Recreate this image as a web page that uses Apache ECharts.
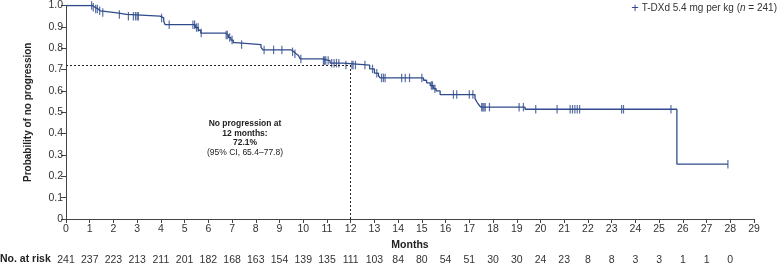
<!DOCTYPE html>
<html>
<head>
<meta charset="utf-8">
<script src="https://cdn.jsdelivr.net/npm/echarts@6/dist/echarts.min.js"></script>
<style>
html,body{margin:0;padding:0;background:#fff;}
#chart{width:778px;height:266px;}
</style>
</head>
<body>
<div id="chart"></div>
<script>
// Kaplan–Meier step data (time in months, probability after each event)
const eventTimes = [0, 1.12, 1.22, 1.35, 1.45, 2.07, 2.56, 3.96, 4.12, 4.18, 5.45, 5.58, 5.68, 6.72, 6.85, 6.95, 7.05, 7.15, 8.22, 8.30, 9.50, 9.60, 9.70, 9.80, 9.87, 10.78, 11.13, 11.70, 12.80, 13.00, 13.17, 13.24, 15.07, 15.20, 15.35, 15.50, 15.60, 15.77, 17.24, 17.32, 17.40, 17.48, 19.35, 25.75, 27.90];
const survival   = [1.000, 0.992, 0.984, 0.975, 0.967, 0.958, 0.950, 0.942, 0.926, 0.910, 0.897, 0.884, 0.871, 0.862, 0.850, 0.838, 0.826, 0.817, 0.804, 0.792, 0.783, 0.774, 0.766, 0.758, 0.750, 0.742, 0.730, 0.721, 0.703, 0.683, 0.671, 0.661, 0.650, 0.638, 0.625, 0.610, 0.600, 0.583, 0.565, 0.548, 0.535, 0.524, 0.514, 0.257, 0.257];
const censorTimes = [1.08, 1.15, 1.25, 1.32, 1.42, 1.55, 2.25, 2.63, 2.84, 2.93, 3.00, 3.05, 4.03, 4.35, 5.35, 5.42, 5.50, 5.57, 5.70, 6.75, 6.80, 6.90, 7.00, 7.40, 8.35, 8.75, 9.10, 9.55, 9.65, 9.90, 10.85, 10.90, 10.95, 11.05, 11.20, 11.30, 11.40, 11.50, 11.80, 12.05, 12.10, 12.20, 12.60, 12.92, 13.10, 13.30, 13.38, 13.45, 14.15, 14.30, 14.48, 15.00, 15.40, 15.45, 15.55, 16.33, 16.47, 17.00, 17.15, 17.52, 17.57, 17.62, 17.67, 17.85, 19.10, 19.28, 19.80, 20.70, 21.25, 21.35, 21.45, 21.55, 21.65, 23.42, 23.50, 25.50, 27.90];
const atRisk = [241, 237, 223, 213, 211, 201, 182, 168, 163, 154, 139, 135, 111, 103, 84, 80, 54, 51, 30, 30, 24, 23, 8, 8, 3, 3, 1, 1, 0];
const landmarkMonth = 12;
const landmarkValue = 0.721;
const annotationLines = ['No progression at', '12 months:', '72.1%', '(95% CI, 65.4–77.8)'];
const legendName = 'T-DXd 5.4 mg per kg';
const legendN = '241';

const FONT = 'Liberation Sans, Arial, Helvetica, sans-serif';
const BLUE = '#2f4b8c';
const AX = '#444';

function kmAt(t){
  let v = survival[0];
  for (let i = 0; i < eventTimes.length; i++){ if (eventTimes[i] <= t) v = survival[i]; }
  return v;
}

const chart = echarts.init(document.getElementById('chart'), null, {renderer:'canvas'});
const option = {
  animation: false,
  textStyle: {fontFamily: FONT},
  grid: {left: 66, right: 24, top: 5, bottom: 47, containLabel: false},
  xAxis: [{
    type: 'value', min: 0, max: 29, interval: 1,
    name: 'Months', nameLocation: 'middle', nameGap: 19,
    nameTextStyle: {fontFamily: FONT, fontWeight: 'bold', fontSize: 10.5, color: '#222'},
    axisLine: {lineStyle: {color: AX, width: 1}},
    axisTick: {length: 4, lineStyle: {color: AX}},
    axisLabel: {fontFamily: FONT, fontSize: 10.5, color: '#333', margin: 5},
    splitLine: {show: false}
  }, {
    type: 'value', min: 0, max: 29, interval: 1, position: 'bottom', offset: 32,
    axisLine: {show: false}, axisTick: {show: false}, splitLine: {show: false},
    axisLabel: {fontFamily: FONT, fontSize: 10.5, color: '#333', margin: 4,
      formatter: v => (atRisk[v] !== undefined ? String(atRisk[v]) : '')}
  }],
  yAxis: {
    type: 'value', min: 0, max: 1, interval: 0.1,
    name: 'Probability of no progression', nameLocation: 'middle', nameGap: 33, nameRotate: 90,
    nameTextStyle: {fontFamily: FONT, fontWeight: 'bold', fontSize: 10, color: '#222'},
    axisLine: {show: true, lineStyle: {color: AX, width: 1}},
    axisTick: {show: true, length: 5, lineStyle: {color: AX}},
    axisLabel: {fontFamily: FONT, fontSize: 10.5, color: '#333', margin: 3,
      formatter: v => (v === 0 ? '0' : v.toFixed(1))},
    splitLine: {show: false}
  },
  series: [{
    type: 'line', step: 'end', symbol: 'none', xAxisIndex: 0,
    data: eventTimes.map((t, i) => [t, survival[i]]),
    lineStyle: {color: BLUE, width: 1.3},
    markLine: {
      silent: true, symbol: 'none', label: {show: false},
      lineStyle: {color: '#222', type: [2, 2], width: 1},
      data: [
        [{coord: [0, landmarkValue]}, {coord: [landmarkMonth, landmarkValue]}],
        [{coord: [landmarkMonth, 0]}, {coord: [landmarkMonth, landmarkValue]}]
      ]
    }
  }, {
    type: 'scatter', xAxisIndex: 0,
    data: censorTimes.map(t => [t, kmAt(t)]),
    symbol: 'rect', symbolSize: [1.2, 8.5],
    itemStyle: {color: BLUE}
  }],
  graphic: [
    {type: 'text', left: 0, top: 254, style: {text: 'No. at risk', font: 'bold 10.5px ' + FONT, fill: '#222'}},
    {type: 'text', x: 245, y: 119, style: {
      text: annotationLines.map((l, i) => i < 3 ? '{b|' + l + '}' : '{n|' + l + '}').join('\n'),
      textAlign: 'center', fill: '#222',
      rich: {
        b: {font: 'bold 8.5px ' + FONT, lineHeight: 9.6, fill: '#222', align: 'center'},
        n: {font: '8.5px ' + FONT, lineHeight: 9.6, fill: '#222', align: 'center'}
      }
    }},
    {type: 'text', right: 1, top: 2, style: {
      text: '{p|+} ' + legendName + ' ({i|n} = ' + legendN + ')',
      font: '10px ' + FONT, fill: '#333',
      rich: {
        p: {font: '13px ' + FONT, fill: BLUE},
        i: {font: 'italic 10px ' + FONT, fill: '#333'}
      }
    }}
  ]
};
chart.setOption(option);
</script>
</body>
</html>
